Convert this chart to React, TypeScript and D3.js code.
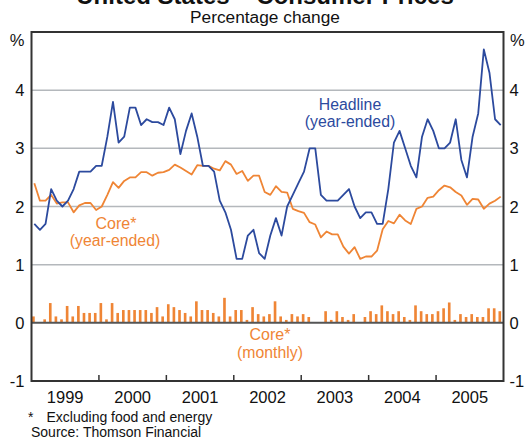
import React from "react";
import * as d3 from "d3";

const years = ["1999", "2000", "2001", "2002", "2003", "2004", "2005"];
const yTicks = [-1, 0, 1, 2, 3, 4];
const gridValues = [1, 2, 3, 4];

const headline = [
  1.7, 1.6, 1.7, 2.3, 2.1, 2.0, 2.1, 2.3, 2.6, 2.6, 2.6, 2.7,
  2.7, 3.2, 3.8, 3.1, 3.2, 3.7, 3.7, 3.4, 3.5, 3.45, 3.45, 3.4,
  3.7, 3.5, 2.9, 3.3, 3.6, 3.2, 2.7, 2.7, 2.6, 2.1, 1.9, 1.6,
  1.1, 1.1, 1.5, 1.6, 1.2, 1.1, 1.5, 1.8, 1.5, 2.0, 2.2, 2.4,
  2.6, 3.0, 3.0, 2.2, 2.1, 2.1, 2.1, 2.2, 2.3, 2.0, 1.8, 1.9,
  1.9, 1.7, 1.7, 2.3, 3.1, 3.3, 3.0, 2.7, 2.5, 3.2, 3.5, 3.3,
  3.0, 3.0, 3.1, 3.5, 2.8, 2.5, 3.2, 3.6, 4.7, 4.3, 3.5, 3.4,
];

const coreYear = [
  2.4, 2.1, 2.1, 2.2, 2.05, 2.07, 2.07, 1.9, 2.02, 2.06, 2.06, 1.94,
  2.0, 2.2, 2.42, 2.32, 2.44, 2.5, 2.5, 2.59, 2.59, 2.53, 2.58, 2.59,
  2.63, 2.72, 2.67, 2.61, 2.55, 2.71, 2.7, 2.7, 2.65, 2.62, 2.78, 2.72,
  2.56, 2.61, 2.44, 2.53, 2.53, 2.25, 2.2, 2.35, 2.25, 2.24, 1.96, 1.92,
  1.89, 1.73, 1.69, 1.47, 1.57, 1.52, 1.52, 1.31, 1.19, 1.3, 1.1, 1.14,
  1.14, 1.24, 1.61, 1.75, 1.71, 1.86, 1.76, 1.7, 1.96, 2.0, 2.15, 2.17,
  2.28, 2.36, 2.33, 2.25, 2.19, 2.03, 2.13, 2.12, 1.96, 2.05, 2.1, 2.17,
];

const coreMonth = [
  0.11, 0, 0.06, 0.34, 0.11, 0.06, 0.29, 0.11, 0.29, 0.17, 0.17, 0.17,
  0.34, 0.06, 0.34, 0.17, 0.22, 0.22, 0.22, 0.22, 0.22, 0.17, 0.27, 0.11,
  0.32, 0.27, 0.22, 0.17, 0.11, 0.37, 0.22, 0.22, 0.17, 0.11, 0.43, 0.11,
  0.22, 0.22, 0.05, 0.27, 0.15, 0.11, 0.15, 0.37, 0.11, 0.05, 0.15, 0.11,
  0.15, 0.1, 0, 0, 0.2, 0.05, 0.2, 0.1, 0.05, 0.15, 0, 0.1,
  0.2, 0.15, 0.3, 0.2, 0.15, 0.2, 0.1, 0.05, 0.3, 0.2, 0.15, 0.15,
  0.2, 0.25, 0.35, 0.05, 0.15, 0.1, 0.15, 0.1, 0.1, 0.25, 0.25, 0.2,
];

const W = 527;
const H = 439;
const L = 31.5;
const R = 503.5;
const T = 32;
const B = 381;

const BLUE = "#2c4a9e";
const ORANGE = "#ef8535";
const FONT = "Arial, 'Liberation Sans', Helvetica, sans-serif";

export default function App() {
  const x = d3.scaleLinear().domain([0, 84]).range([L, R]);
  const y = d3.scaleLinear().domain([-1, 5]).range([B, T]);

  const line = d3
    .line<number>()
    .x((_, i) => x(i + 0.5))
    .y((d) => y(d));

  const monthW = x(1) - x(0);

  return (
    <svg
      width={W}
      height={H}
      style={{ position: "absolute", left: 0, top: 0, background: "#fff" }}
      fontFamily={FONT}
    >
      <rect x={0} y={0} width={W} height={H} fill="#fff" />
      <text x={265} y={4} textAnchor="middle" fontSize={24} fontWeight="bold" fill="#111">
        United States – Consumer Prices
      </text>
      <text x={265} y={23} textAnchor="middle" fontSize={17.3} fill="#111">
        Percentage change
      </text>

      {gridValues.map((v) => (
        <line key={v} x1={L} x2={R} y1={y(v)} y2={y(v)} stroke="#b4b8bc" strokeWidth={1.5} />
      ))}

      {coreMonth.map((v, i) => (
        <rect
          key={i}
          x={x(i) + 0.6}
          y={y(Math.max(v, 0))}
          width={monthW * 0.47}
          height={Math.abs(y(v) - y(0))}
          fill={ORANGE}
        />
      ))}

      <line x1={L} x2={R} y1={y(0)} y2={y(0)} stroke="#555" strokeWidth={2} />

      <path d={line(coreYear) || ""} fill="none" stroke={ORANGE} strokeWidth={1.8} strokeLinejoin="round" />
      <path d={line(headline) || ""} fill="none" stroke={BLUE} strokeWidth={1.8} strokeLinejoin="round" />

      {/* frame */}
      <line x1={L} x2={R} y1={T} y2={T} stroke="#333" strokeWidth={2} />
      <line x1={L} x2={R} y1={B} y2={B} stroke="#333" strokeWidth={2} />
      <line x1={L} x2={L} y1={T - 1} y2={B + 1} stroke="#333" strokeWidth={2} />
      <line x1={R} x2={R} y1={T - 1} y2={B + 1} stroke="#333" strokeWidth={2} />

      {years.map((yr, k) =>
        k > 0 ? (
          <line key={"t" + yr} x1={x(k * 12)} x2={x(k * 12)} y1={B} y2={B - 6} stroke="#333" strokeWidth={1.5} />
        ) : null
      )}
      {years.map((yr, k) => (
        <text key={yr} x={x(k * 12 + 6)} y={402.7} textAnchor="middle" fontSize={16.5} fill="#111">
          {yr}
        </text>
      ))}

      {yTicks.map((v) => (
        <g key={v}>
          <text x={24.5} y={y(v) + 6} textAnchor="end" fontSize={16.5} fill="#111">
            {v}
          </text>
          <text x={509.5} y={y(v) + 6} textAnchor="start" fontSize={16.5} fill="#111">
            {v}
          </text>
        </g>
      ))}
      <text x={24.5} y={46.3} textAnchor="end" fontSize={16.5} fill="#111">%</text>
      <text x={510} y={46.3} textAnchor="start" fontSize={16.5} fill="#111">%</text>

      <text x={350} y={110} textAnchor="middle" fontSize={15.8} fill={BLUE}>Headline</text>
      <text x={350} y={127} textAnchor="middle" fontSize={15.8} fill={BLUE}>(year-ended)</text>

      <text x={116} y={229} textAnchor="middle" fontSize={16} fill={ORANGE}>Core*</text>
      <text x={115} y={246} textAnchor="middle" fontSize={15.8} fill={ORANGE}>(year-ended)</text>

      <text x={270} y={340} textAnchor="middle" fontSize={16} fill={ORANGE}>Core*</text>
      <text x={270} y={358} textAnchor="middle" fontSize={15.8} fill={ORANGE}>(monthly)</text>

      <text x={28} y={421.5} fontSize={14} fill="#111">*</text>
      <text x={46.5} y={421.5} fontSize={14} fill="#111">Excluding food and energy</text>
      <text x={31} y={436.8} fontSize={14} fill="#111">Source: Thomson Financial</text>
    </svg>
  );
}
